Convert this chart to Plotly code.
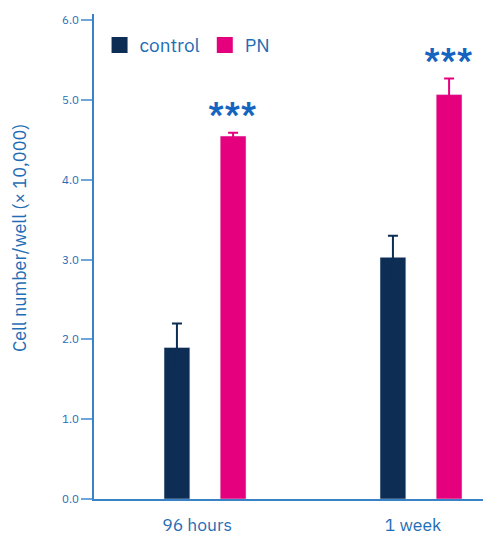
import plotly.graph_objects as go

categories = ["96 hours", "1 week"]
control_values = [1.90, 3.03]
control_errors = [0.30, 0.27]
pn_values = [4.55, 5.07]
pn_errors = [0.04, 0.20]
significance = ["***", "***"]
y_ticks = [0.0, 1.0, 2.0, 3.0, 4.0, 5.0, 6.0]

CONTROL = "#0d2d55"
PN = "#e5007e"
TEXT = "#1f6db5"
AXIS = "#3a82c6"
FONT = "IBM Plex Sans, Noto Sans, Open Sans, sans-serif"

W, H = 483, 529
ML, MR, MT, MB = 86, 0, 6, 38
PW, PH = W - ML - MR, H - MT - MB

fig = go.Figure()
fig.add_trace(go.Bar(
    x=categories, y=control_values, name="control", marker_color=CONTROL,
    error_y=dict(type="data", array=control_errors, symmetric=True,
                 color=CONTROL, thickness=2, width=5),
    showlegend=False,
))
fig.add_trace(go.Bar(
    x=categories, y=pn_values, name="PN", marker_color=PN,
    error_y=dict(type="data", array=pn_errors, symmetric=True,
                 color=PN, thickness=2, width=5),
    showlegend=False,
))
# legend-only entries with larger square symbols
for nm, col in [("control", CONTROL), ("PN", PN)]:
    fig.add_trace(go.Scatter(x=[None], y=[None], mode="markers", name=nm,
                             marker=dict(symbol="square", size=17, color=col)))

for i, cat in enumerate(categories):
    fig.add_annotation(x=cat, y=pn_values[i] + pn_errors[i], text="<b>" + significance[i] + "</b>",
                       xref="x", yref="y", showarrow=False, xshift=27, yshift=20,
                       font=dict(size=27, color="#1565c0", family=FONT))

# y axis title placed at pixel position (window coords 19, 238)
fig.add_annotation(x=(19 - 8 - ML) / PW, y=(H - MB - (238 - 8)) / PH, xref="paper", yref="paper",
                   text="Cell number/well (× 10,000)", textangle=-90, showarrow=False,
                   xanchor="center", yanchor="middle",
                   font=dict(size=18, color=TEXT, family=FONT))

fig.update_layout(
    width=W, height=H,
    margin=dict(l=ML, r=MR, t=MT, b=MB, autoexpand=False),
    paper_bgcolor="white", plot_bgcolor="white",
    barmode="group", bargap=0.48, bargroupgap=0.54,
    font=dict(family=FONT, color=TEXT),
    legend=dict(orientation="h", x=0.014, y=0.975, xanchor="left", yanchor="top",
                font=dict(size=19, color=TEXT), bgcolor="rgba(0,0,0,0)",
                itemwidth=30, tracegroupgap=0),
)

fig.update_xaxes(range=[-0.514, 1.324], showline=True, linecolor=AXIS, linewidth=1.5,
                 ticks="", showgrid=False, zeroline=False, automargin=False,
                 tickfont=dict(size=17.5, color=TEXT, family=FONT),
                 ticklabelstandoff=9, ticklabelshift=-8)
fig.update_yaxes(range=[0, 6.08], tickvals=y_ticks, ticktext=[f"{v:.1f}" for v in y_ticks],
                 showline=True, linecolor=AXIS, linewidth=1.5, automargin=False,
                 ticks="outside", ticklen=11, tickcolor="#6fa6da", tickwidth=1.5,
                 showgrid=False, zeroline=False,
                 tickfont=dict(size=11.5, color=TEXT, family=FONT))

fig.write_html("out.html")
